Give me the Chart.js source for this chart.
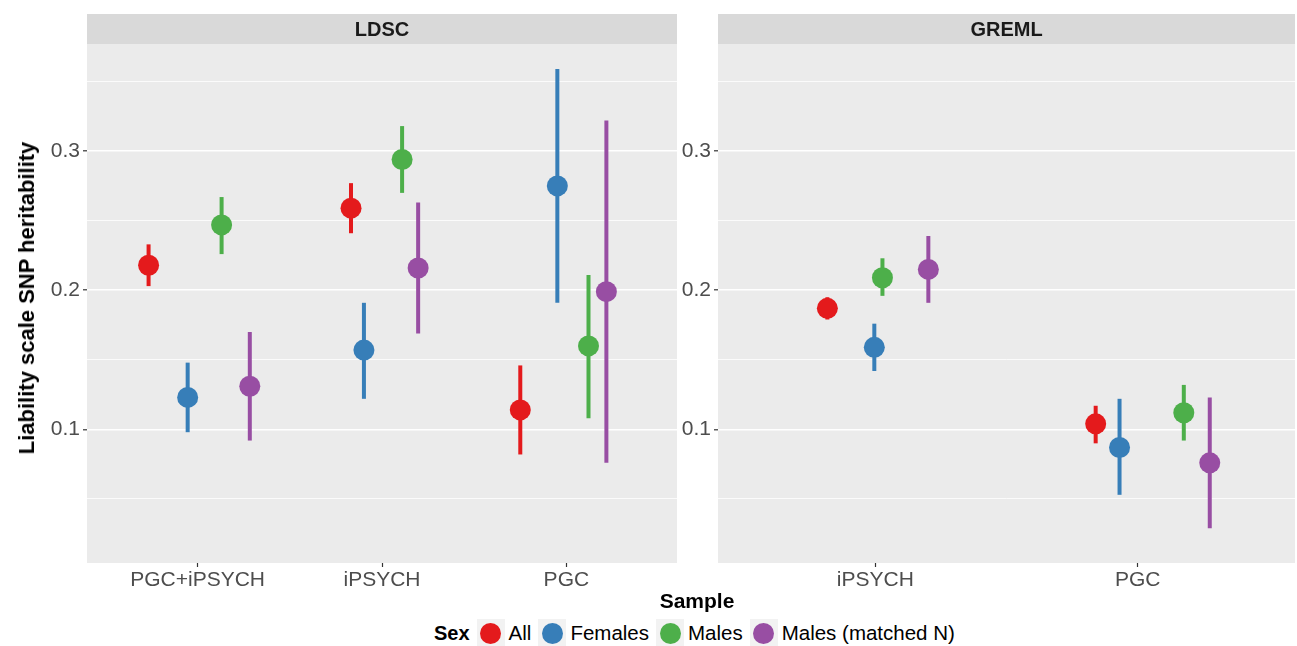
<!DOCTYPE html>
<html>
<head>
<meta charset="utf-8">
<script src="https://cdn.jsdelivr.net/npm/chart.js@4.4.0/dist/chart.umd.min.js"></script>
<style>
  html, body { margin:0; padding:0; background:#ffffff; width:1297px; height:646px; overflow:hidden;
    font-family:"Liberation Sans", Arial, sans-serif; }
  #c1 { position:absolute; left:0; top:0; }
  #c2 { position:absolute; left:680px; top:0; }
  #ytitle { position:absolute; left:27px; top:298px; transform:translate(-50%,-50%) rotate(-90deg);
    font-weight:bold; font-size:22px; line-height:1; white-space:nowrap; color:#000; }
  #xtitle { position:absolute; left:697px; top:600px; transform:translate(-50%,-50%);
    font-weight:bold; font-size:21px; line-height:1; white-space:nowrap; color:#000; }
  #legend { position:absolute; left:434px; top:633px; transform:translateY(-50%);
    display:flex; align-items:center; font-size:20.5px; line-height:1; white-space:nowrap; color:#000; }
  #legend .ttl { font-weight:bold; font-size:20px; margin-right:7px; }
  #legend .key { width:28px; height:28px; background:#f2f2f2; display:flex; align-items:center; justify-content:center; }
  #legend .dot { width:21px; height:21px; border-radius:50%; }
  #legend .lab { margin-left:4px; margin-right:7px; }
</style>
</head>
<body>
<canvas id="c1" width="680" height="600"></canvas>
<canvas id="c2" width="617" height="600"></canvas>
<div id="ytitle">Liability scale SNP heritability</div>
<div id="xtitle">Sample</div>
<div id="legend"></div>
<script>
// ---------------- data ----------------
const sexLevels = ['All', 'Females', 'Males', 'Males (matched N)'];
const sexColors = ['#E41A1C', '#377EB8', '#4DAF4A', '#984EA3'];

const ldscCategories = ['PGC+iPSYCH', 'iPSYCH', 'PGC'];
const gremlCategories = ['iPSYCH', 'PGC'];

// LDSC estimates, lower and upper limits (per category)
const ldscAll       = [0.218, 0.259, 0.114];
const ldscAllLo     = [0.203, 0.241, 0.082];
const ldscAllHi     = [0.233, 0.277, 0.146];
const ldscFemales   = [0.123, 0.157, 0.275];
const ldscFemalesLo = [0.098, 0.122, 0.191];
const ldscFemalesHi = [0.148, 0.191, 0.359];
const ldscMales     = [0.247, 0.294, 0.160];
const ldscMalesLo   = [0.226, 0.270, 0.108];
const ldscMalesHi   = [0.267, 0.318, 0.211];
const ldscMatched   = [0.131, 0.216, 0.199];
const ldscMatchedLo = [0.092, 0.169, 0.076];
const ldscMatchedHi = [0.170, 0.263, 0.322];

// GREML estimates, lower and upper limits
const gremlAll       = [0.187, 0.104];
const gremlAllLo     = [0.179, 0.090];
const gremlAllHi     = [0.195, 0.117];
const gremlFemales   = [0.159, 0.087];
const gremlFemalesLo = [0.142, 0.053];
const gremlFemalesHi = [0.176, 0.122];
const gremlMales     = [0.209, 0.112];
const gremlMalesLo   = [0.196, 0.092];
const gremlMalesHi   = [0.223, 0.132];
const gremlMatched   = [0.215, 0.076];
const gremlMatchedLo = [0.191, 0.029];
const gremlMatchedHi = [0.239, 0.123];

// horizontal jitter of each point (in category units)
const ldscJitterAll      = [-0.266, -0.168, -0.250];
const ldscJitterFemales  = [-0.054, -0.098, -0.049];
const ldscJitterMales    = [ 0.130,  0.109,  0.120];
const ldscJitterMatched  = [ 0.283,  0.196,  0.217];
const gremlJitterAll     = [-0.183, -0.160];
const gremlJitterFemales = [-0.004, -0.069];
const gremlJitterMales   = [ 0.027,  0.176];
const gremlJitterMatched = [ 0.202,  0.275];

// axis
const yMin = 0.004, yMax = 0.377;
const yGridValues = [0.05, 0.10, 0.15, 0.20, 0.25, 0.30, 0.35];
const yTickLabels = ['', '0.1', '', '0.2', '', '0.3', ''];

// ---------------- build ----------------
const FONT = '"Liberation Sans", Arial, sans-serif';
const isMajor = v => Math.abs(v * 10 - Math.round(v * 10)) < 1e-6;

function makeDatasets(cats, est, lo, hi, jit) {
  return sexLevels.map((s, k) => ({
    label: s,
    data: cats.map((c, j) => ({ x: j + 1 + jit[k][j], y: est[k][j], lo: lo[k][j], hi: hi[k][j] })),
    backgroundColor: sexColors[k],
    borderColor: sexColors[k],
    borderWidth: 0,
    pointRadius: 10.5,
    pointHoverRadius: 10.5
  }));
}

const panelPlugin = {
  id: 'panel',
  beforeDraw(chart, args, opts) {
    const { ctx, chartArea: a } = chart;
    ctx.save();
    ctx.fillStyle = '#ebebeb';
    ctx.fillRect(a.left, a.top, a.right - a.left, a.bottom - a.top);
    ctx.fillStyle = '#d9d9d9';
    ctx.fillRect(a.left, opts.stripTop, a.right - a.left, a.top - opts.stripTop);
    ctx.fillStyle = '#1a1a1a';
    ctx.font = 'bold 20px ' + FONT;
    ctx.textAlign = 'center';
    ctx.textBaseline = 'middle';
    ctx.fillText(opts.label, (a.left + a.right) / 2, (opts.stripTop + a.top) / 2 + 1);
    ctx.restore();
  },
  beforeDatasetsDraw(chart) {
    const ctx = chart.ctx, ys = chart.scales.y;
    ctx.save();
    chart.data.datasets.forEach((ds, i) => {
      const meta = chart.getDatasetMeta(i);
      ctx.strokeStyle = ds.borderColor;
      ctx.lineWidth = 4;
      ctx.lineCap = 'butt';
      ds.data.forEach((p, j) => {
        const x = meta.data[j].x;
        ctx.beginPath();
        ctx.moveTo(x, ys.getPixelForValue(p.lo));
        ctx.lineTo(x, ys.getPixelForValue(p.hi));
        ctx.stroke();
      });
    });
    ctx.restore();
  }
};

function makeChart(id, label, cats, datasets, yWidth, padRight) {
  return new Chart(document.getElementById(id), {
    type: 'scatter',
    data: { datasets },
    plugins: [panelPlugin],
    options: {
      responsive: false,
      animation: false,
      devicePixelRatio: 1,
      layout: { autoPadding: false, padding: { top: 44, right: padRight, left: 0, bottom: 0 } },
      plugins: {
        legend: { display: false },
        tooltip: { enabled: false },
        panel: { label: label, stripTop: 14 }
      },
      scales: {
        x: {
          type: 'linear',
          min: 0.4, max: cats.length + 0.6,
          afterBuildTicks: s => { s.ticks = cats.map((c, i) => ({ value: i + 1 })); },
          afterFit: s => { s.height = 37; s.paddingLeft = 0; s.paddingRight = 0; },
          ticks: { callback: (v, i) => cats[i], color: '#4d4d4d', font: { family: FONT, size: 21 },
                   padding: 1, autoSkip: false, maxRotation: 0 },
          grid: { drawOnChartArea: false, drawTicks: true, tickLength: 4, tickColor: '#333333', tickWidth: 1.2 },
          border: { display: false }
        },
        y: {
          type: 'linear',
          min: yMin, max: yMax,
          afterBuildTicks: s => { s.ticks = yGridValues.map(v => ({ value: v })); },
          afterFit: s => { s.width = yWidth; s.paddingTop = 0; s.paddingBottom = 0; },
          ticks: { callback: (v, i) => yTickLabels[i], color: '#4d4d4d', font: { family: FONT, size: 21 },
                   padding: 3, autoSkip: false },
          grid: {
            color: '#ffffff',
            lineWidth: c => (c.tick && isMajor(c.tick.value)) ? 1.6 : 0.8,
            tickColor: c => (c.tick && isMajor(c.tick.value)) ? '#333333' : 'rgba(0,0,0,0)',
            tickWidth: 1.2,
            tickLength: 4,
            drawTicks: true
          },
          border: { display: false }
        }
      }
    }
  });
}

makeChart('c1', 'LDSC', ldscCategories,
  makeDatasets(ldscCategories,
    [ldscAll, ldscFemales, ldscMales, ldscMatched],
    [ldscAllLo, ldscFemalesLo, ldscMalesLo, ldscMatchedLo],
    [ldscAllHi, ldscFemalesHi, ldscMalesHi, ldscMatchedHi],
    [ldscJitterAll, ldscJitterFemales, ldscJitterMales, ldscJitterMatched]),
  87, 3);

makeChart('c2', 'GREML', gremlCategories,
  makeDatasets(gremlCategories,
    [gremlAll, gremlFemales, gremlMales, gremlMatched],
    [gremlAllLo, gremlFemalesLo, gremlMalesLo, gremlMatchedLo],
    [gremlAllHi, gremlFemalesHi, gremlMalesHi, gremlMatchedHi],
    [gremlJitterAll, gremlJitterFemales, gremlJitterMales, gremlJitterMatched]),
  38, 2);

// legend
const leg = document.getElementById('legend');
const t = document.createElement('span'); t.className = 'ttl'; t.textContent = 'Sex'; leg.appendChild(t);
sexLevels.forEach((s, k) => {
  const key = document.createElement('span'); key.className = 'key';
  const dot = document.createElement('span'); dot.className = 'dot'; dot.style.background = sexColors[k];
  key.appendChild(dot); leg.appendChild(key);
  const lab = document.createElement('span'); lab.className = 'lab'; lab.textContent = s; leg.appendChild(lab);
});
</script>
</body>
</html>
